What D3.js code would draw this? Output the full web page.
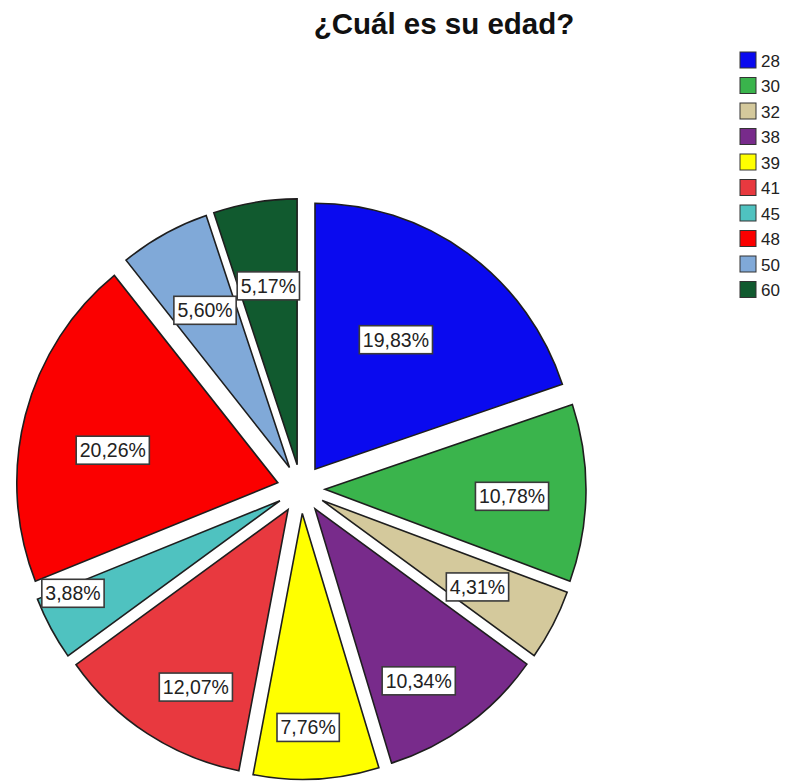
<!DOCTYPE html>
<html>
<head>
<meta charset="utf-8">
<script src="https://cdn.jsdelivr.net/npm/d3@7/dist/d3.min.js"></script>
<style>
  html, body { margin: 0; padding: 0; background: #ffffff; }
  svg { display: block; }
  text { font-family: "Liberation Sans", Arial, sans-serif; }
</style>
</head>
<body>
<svg id="chart" width="790" height="782"></svg>
<script>
// Age groups and their share of respondents (%)
const ages = ["28", "30", "32", "38", "39", "41", "45", "48", "50", "60"];
const percents = [19.83, 10.78, 4.31, 10.34, 7.76, 12.07, 3.88, 20.26, 5.60, 5.17];
const title = "¿Cuál es su edad?";

// Slice fills, in the same order as the ages
const sliceColors = ["#0a0aef", "#3ab44c", "#d4c99c", "#782b8b", "#ffff00",
                     "#e8393f", "#4fc2c0", "#fb0000", "#80a9d8", "#115a2f"];
// Label placement inside each slice: distance (fraction of radius) and angular nudge (degrees)
const labelRadius = [0.577, 0.717, 0.678, 0.759, 0.805, 0.755, 0.866, 0.644, 0.674, 0.682];
const labelNudge  = [-3.2, 1.3, 0.7, 4.1, 1.5, -4.7, 5.0, -3.8, 0, 0];

const svg = d3.select("#chart");

const cx = 301, cy = 489;
const radius = 261;
const explode = 24;
const stretchY = 1.019;

const fmt = v => v.toFixed(2).replace(".", ",") + "%";

const data = ages.map((a, i) => ({
  age: a, value: percents[i], color: sliceColors[i], lr: labelRadius[i], ln: labelNudge[i]
}));

const pie = d3.pie().value(d => d.value).sort(null).startAngle(0).endAngle(2 * Math.PI);
const arcs = pie(data);
const arc = d3.arc().innerRadius(0).outerRadius(radius);

const polar = (angle, dist) => [Math.sin(angle) * dist, -Math.cos(angle) * dist];
const midAngle = a => (a.startAngle + a.endAngle) / 2;

// Title
svg.append("text")
  .attr("x", 444).attr("y", 34)
  .attr("text-anchor", "middle")
  .attr("font-size", 29.5).attr("font-weight", "bold")
  .attr("fill", "#111")
  .text(title);

// Exploded pie
const pieG = svg.append("g")
  .attr("transform", `translate(${cx},${cy}) scale(1,${stretchY})`);

pieG.selectAll("path.slice")
  .data(arcs)
  .join("path")
  .attr("class", "slice")
  .attr("d", arc)
  .attr("transform", d => { const [dx, dy] = polar(midAngle(d), explode); return `translate(${dx},${dy})`; })
  .attr("fill", d => d.data.color)
  .attr("stroke", "#1e1e1e")
  .attr("stroke-width", 1.6)
  .attr("vector-effect", "non-scaling-stroke");

// Value labels in boxes
const labels = svg.append("g").selectAll("g.lbl")
  .data(arcs)
  .join("g")
  .attr("class", "lbl")
  .attr("transform", d => {
    const [ox, oy] = polar(midAngle(d), explode);
    const [lx, ly] = polar(midAngle(d) + d.data.ln * Math.PI / 180, radius * d.data.lr);
    return `translate(${cx + ox + lx},${cy + (oy + ly) * stretchY})`;
  });

labels.each(function(d) {
  const g = d3.select(this);
  const t = g.append("text")
    .attr("text-anchor", "middle")
    .attr("dy", "0.36em")
    .attr("font-size", 19.5)
    .attr("fill", "#222")
    .text(fmt(d.data.value));
  const bb = t.node().getBBox();
  g.insert("rect", "text")
    .attr("x", bb.x - 3.5).attr("y", -14)
    .attr("width", bb.width + 7).attr("height", 28)
    .attr("fill", "#ffffff")
    .attr("stroke", "#3a3a3a")
    .attr("stroke-width", 1.6);
});

// Legend
const legend = svg.append("g").attr("transform", "translate(740,52)");
const rows = legend.selectAll("g.row")
  .data(data)
  .join("g")
  .attr("class", "row")
  .attr("transform", (d, i) => `translate(0,${i * 25.5})`);

rows.append("rect")
  .attr("width", 16).attr("height", 16)
  .attr("fill", d => d.color)
  .attr("stroke", "#333").attr("stroke-width", 1);

rows.append("text")
  .attr("x", 21).attr("y", 14.5)
  .attr("font-size", 17)
  .attr("fill", "#222")
  .text(d => d.age);
</script>
</body>
</html>
